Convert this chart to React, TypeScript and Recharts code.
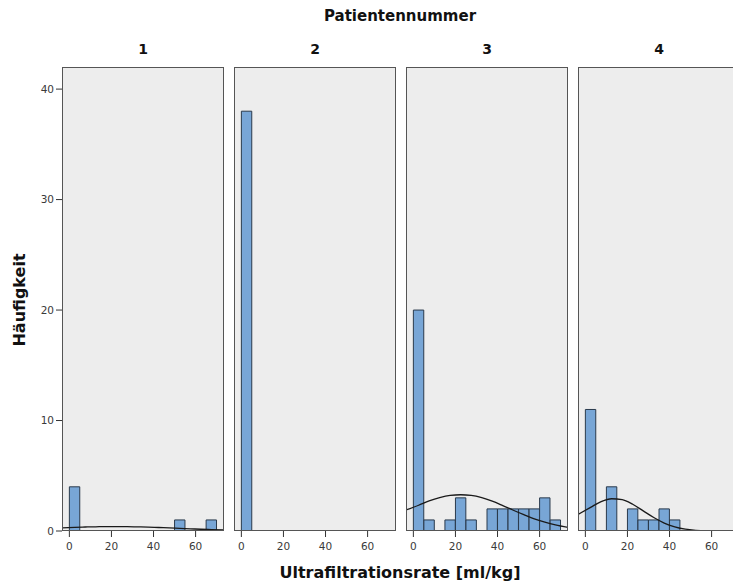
import { Bar, CartesianGrid, ComposedChart, Line, XAxis, YAxis } from 'recharts'

// Histogram bins (start of each 5 ml/kg bin)
const binStarts = [0, 5, 10, 15, 20, 25, 30, 35, 40, 45, 50, 55, 60, 65]

// Counts per bin, one array per patient
const counts1 = [4, 0, 0, 0, 0, 0, 0, 0, 0, 0, 1, 0, 0, 1]
const counts2 = [38, 0, 0, 0, 0, 0, 0, 0, 0, 0, 0, 0, 0, 0]
const counts3 = [20, 1, 0, 1, 3, 1, 0, 2, 2, 2, 2, 2, 3, 1]
const counts4 = [11, 0, 4, 0, 2, 1, 1, 2, 1, 0, 0, 0, 0, 0]

// Normal curve, sampled at the panel edges and bin centres
const curveX = [-3.5, 2.5, 7.5, 12.5, 17.5, 22.5, 27.5, 32.5, 37.5, 42.5, 47.5, 52.5, 57.5, 62.5, 67.5, 73.5]
const curve1 = [0.28, 0.33, 0.36, 0.38, 0.4, 0.4, 0.39, 0.375, 0.35, 0.315, 0.28, 0.24, 0.2, 0.16, 0.125, 0.09]
const curve2: (number | null)[] = curveX.map(() => null)
const curve3 = [1.9, 2.33, 2.72, 3.02, 3.22, 3.28, 3.22, 3.02, 2.7, 2.3, 1.88, 1.48, 1.1, 0.8, 0.55, 0.32]
const curve4 = [1.5, 2.14, 2.66, 2.92, 2.84, 2.42, 1.82, 1.22, 0.72, 0.38, 0.16, 0.06, 0.02, 0.01, 0, 0]

const panelLabels = ['1', '2', '3', '4']
const xTicks = [0, 20, 40, 60]
const yTicks = [0, 10, 20, 30, 40]

const panels = [
    { label: panelLabels[0], counts: counts1, curve: curve1 },
    { label: panelLabels[1], counts: counts2, curve: curve2 },
    { label: panelLabels[2], counts: counts3, curve: curve3 },
    { label: panelLabels[3], counts: counts4, curve: curve4 },
]

const FRAME_LEFT = [62, 234, 406, 578]
const FRAME_TOP = 67
const FRAME_W = 162
const FRAME_H = 464
const Y_AXIS_W = 40
const X_AXIS_H = 40
const FONT = '"DejaVu Sans", sans-serif'
const TICK_STYLE = { fontSize: 10.5, fill: '#3a3a3a', fontFamily: FONT }

const buildRows = (counts: number[], curve: (number | null)[]) =>
    curveX.map((x, i) => {
        const bin = binStarts.findIndex((s) => s + 2.5 === x)
        return { x, count: bin >= 0 ? counts[bin] : undefined, curve: curve[i] }
    })

const Panel = ({ index }: { index: number }) => {
    const p = panels[index]
    const withY = index === 0
    const rows = buildRows(p.counts, p.curve)
    const left = FRAME_LEFT[index] - (withY ? Y_AXIS_W : 0)

    return (
        <>
            <div
                style={{
                    position: 'absolute',
                    left: FRAME_LEFT[index],
                    top: 41,
                    width: FRAME_W,
                    textAlign: 'center',
                    fontFamily: FONT,
                    fontWeight: 'bold',
                    fontSize: 14,
                    color: '#111',
                }}
            >
                {p.label}
            </div>
            <div style={{ position: 'absolute', left, top: FRAME_TOP }}>
                <ComposedChart
                    width={FRAME_W + (withY ? Y_AXIS_W : 0)}
                    height={FRAME_H + X_AXIS_H}
                    data={rows}
                    margin={{ top: 0, right: 0, bottom: 0, left: 0 }}
                >
                    <CartesianGrid fill="#ededed" horizontal={false} vertical={false} />
                    <XAxis
                        dataKey="x"
                        type="number"
                        domain={[-3.5, 73.5]}
                        ticks={xTicks}
                        height={X_AXIS_H}
                        axisLine={false}
                        tickSize={6}
                        tickMargin={6}
                        tickLine={{ stroke: '#333' }}
                        tick={TICK_STYLE}
                        allowDataOverflow
                    />
                    <YAxis
                        type="number"
                        domain={[0, 42]}
                        ticks={yTicks}
                        width={Y_AXIS_W}
                        hide={!withY}
                        axisLine={false}
                        tickSize={6}
                        tickMargin={2}
                        tickLine={{ stroke: '#333' }}
                        tick={TICK_STYLE}
                        allowDataOverflow
                    />
                    <Bar
                        dataKey="count"
                        barSize={10.4}
                        fill="#78a6d6"
                        stroke="#2a3a4c"
                        strokeWidth={1}
                        isAnimationActive={false}
                    />
                    <Line
                        dataKey="curve"
                        type="monotone"
                        stroke="#1a1a1a"
                        strokeWidth={1.3}
                        dot={false}
                        connectNulls
                        isAnimationActive={false}
                    />
                </ComposedChart>
            </div>
            <div
                style={{
                    position: 'absolute',
                    left: FRAME_LEFT[index],
                    top: FRAME_TOP,
                    width: FRAME_W,
                    height: FRAME_H,
                    border: '1.5px solid #555',
                    boxSizing: 'border-box',
                    pointerEvents: 'none',
                }}
            />
        </>
    )
}

export default function App() {
    return (
        <div
            style={{
                position: 'absolute',
                left: 0,
                top: 0,
                width: 733,
                height: 585,
                overflow: 'hidden',
                background: '#fff',
            }}
        >
            <div
                style={{
                    position: 'absolute',
                    left: 0,
                    top: 7,
                    width: 800,
                    textAlign: 'center',
                    fontFamily: FONT,
                    fontWeight: 'bold',
                    fontSize: 15,
                    color: '#111',
                }}
            >
                Patientennummer
            </div>
            {panels.map((_, i) => (
                <Panel key={i} index={i} />
            ))}
            <div
                style={{
                    position: 'absolute',
                    left: 0,
                    top: 563,
                    width: 800,
                    textAlign: 'center',
                    fontFamily: FONT,
                    fontWeight: 'bold',
                    fontSize: 16,
                    color: '#111',
                }}
            >
                Ultrafiltrationsrate [ml/kg]
            </div>
            <div
                style={{
                    position: 'absolute',
                    left: 19,
                    top: 300,
                    transform: 'translate(-50%, -50%) rotate(-90deg)',
                    fontFamily: FONT,
                    fontWeight: 'bold',
                    fontSize: 16,
                    color: '#111',
                    whiteSpace: 'nowrap',
                }}
            >
                Häufigkeit
            </div>
        </div>
    )
}
